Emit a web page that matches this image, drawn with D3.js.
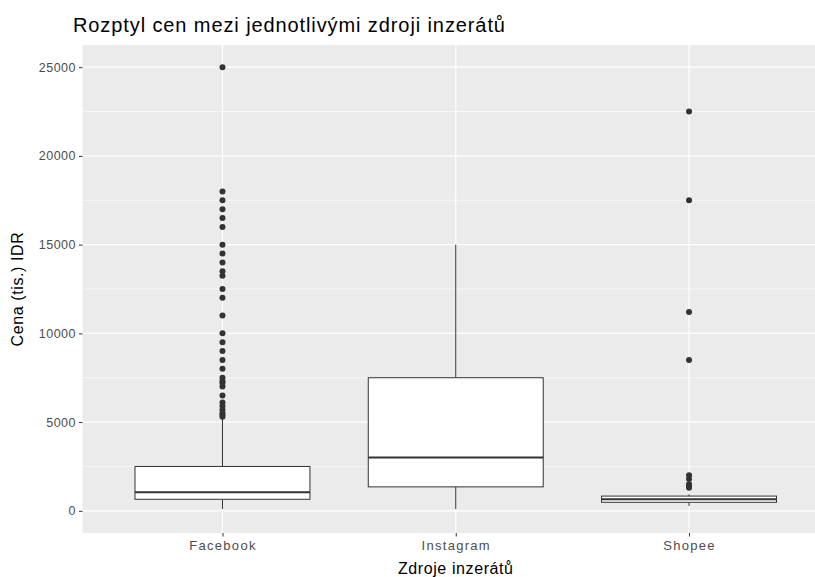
<!DOCTYPE html>
<html>
<head>
<meta charset="utf-8">
<script src="https://cdn.jsdelivr.net/npm/d3@7"></script>
<style>
  body { margin: 0; background: #fff; }
  text { font-family: "Liberation Sans", Arial, sans-serif; }
</style>
</head>
<body>
<svg id="chart"></svg>
<script>
// data (values in tis. IDR)
const categories = ["Facebook", "Instagram", "Shopee"];
const q1 = [650, 1350, 480];
const median = [1050, 3000, 650];
const q3 = [2500, 7500, 830];
const whiskerLow = [100, 100, 270];
const whiskerHigh = [5200, 15000, 930];
const outliers = [
  [25000, 18000, 17500, 17000, 16500, 16000, 15000, 14500, 14000, 13500, 13250,
   12500, 12000, 11000, 10000, 9500, 9000, 8500, 8000, 7500, 7300, 7200, 7000,
   6500, 6100, 5900, 5700, 5500, 5400, 5300],
  [],
  [22500, 17500, 11200, 8500, 2000, 1800, 1500, 1400, 1300]
];
const yTicks = [0, 5000, 10000, 15000, 20000, 25000];
const yMinor = [2500, 7500, 12500, 17500, 22500];

//window setting
const width = 815;
const height = 577;
const svg = d3.select("#chart").attr("width", width).attr("height", height);
const panel = { left: 82.5, right: 829, top: 45, bottom: 533 };

const x = d3.scalePoint().domain(categories).range([panel.left, panel.right]).padding(0.6);
const y = d3.scaleLinear().domain([-1250, 26250]).range([panel.bottom, panel.top]);
const boxW = x.step() * 0.75;

// panel background
svg.append("rect")
  .attr("x", panel.left)
  .attr("y", panel.top)
  .attr("width", panel.right - panel.left)
  .attr("height", panel.bottom - panel.top)
  .attr("fill", "#EBEBEB");

// grid
const grid = svg.append("g");
grid.selectAll(".minor")
  .data(yMinor)
  .enter()
  .append("line")
  .attr("x1", panel.left)
  .attr("x2", panel.right)
  .attr("y1", (d) => y(d))
  .attr("y2", (d) => y(d))
  .attr("stroke", "#fff")
  .attr("stroke-width", 0.6);
grid.selectAll(".major")
  .data(yTicks)
  .enter()
  .append("line")
  .attr("x1", panel.left)
  .attr("x2", panel.right)
  .attr("y1", (d) => y(d))
  .attr("y2", (d) => y(d))
  .attr("stroke", "#fff")
  .attr("stroke-width", 1.2);
grid.selectAll(".vmajor")
  .data(categories)
  .enter()
  .append("line")
  .attr("x1", (d) => x(d))
  .attr("x2", (d) => x(d))
  .attr("y1", panel.top)
  .attr("y2", panel.bottom)
  .attr("stroke", "#fff")
  .attr("stroke-width", 1.2);

// boxes
const box = svg.selectAll(".box")
  .data(categories)
  .enter()
  .append("g")
  .attr("class", "box");
box.append("line")
  .attr("x1", (d) => x(d))
  .attr("x2", (d) => x(d))
  .attr("y1", (d, i) => y(whiskerLow[i]))
  .attr("y2", (d, i) => y(q1[i]))
  .attr("stroke", "#333")
  .attr("stroke-width", 1);
box.append("line")
  .attr("x1", (d) => x(d))
  .attr("x2", (d) => x(d))
  .attr("y1", (d, i) => y(q3[i]))
  .attr("y2", (d, i) => y(whiskerHigh[i]))
  .attr("stroke", "#333")
  .attr("stroke-width", 1);
box.append("rect")
  .attr("x", (d) => x(d) - boxW / 2)
  .attr("width", boxW)
  .attr("y", (d, i) => y(q3[i]))
  .attr("height", (d, i) => y(q1[i]) - y(q3[i]))
  .attr("fill", "#fff")
  .attr("stroke", "#333")
  .attr("stroke-width", 1);
box.append("line")
  .attr("x1", (d) => x(d) - boxW / 2)
  .attr("x2", (d) => x(d) + boxW / 2)
  .attr("y1", (d, i) => y(median[i]))
  .attr("y2", (d, i) => y(median[i]))
  .attr("stroke", "#333")
  .attr("stroke-width", 2);
box.selectAll("circle")
  .data((d, i) => outliers[i].map((v) => ({ cat: d, v: v })))
  .enter()
  .append("circle")
  .attr("cx", (d) => x(d.cat))
  .attr("cy", (d) => y(d.v))
  .attr("r", 3)
  .attr("fill", "#333");

// axes
const yAxis = svg.append("g")
  .attr("transform", `translate(${panel.left},0)`)
  .call(d3.axisLeft(y).tickValues(yTicks).tickSize(3.5).tickPadding(3).tickFormat(d3.format("d")));
const xAxis = svg.append("g")
  .attr("transform", `translate(0,${panel.bottom})`)
  .call(d3.axisBottom(x).tickSize(3.5).tickPadding(4));
svg.selectAll(".domain").remove();
svg.selectAll(".tick line").attr("stroke", "#333").attr("stroke-width", 1);
svg.selectAll(".tick text")
  .attr("fill", "#4D4D4D")
  .style("font-family", "'Liberation Sans', Arial, sans-serif");
xAxis.selectAll(".tick text")
  .style("font-size", "13px")
  .style("letter-spacing", "1.3px");
yAxis.selectAll(".tick text")
  .style("font-size", "12.5px")
  .style("letter-spacing", "0.5px");

// titles
svg.append("text")
  .attr("x", 73)
  .attr("y", 32)
  .style("font-size", "20px")
  .style("letter-spacing", "0.9px")
  .attr("fill", "#000")
  .text("Rozptyl cen mezi jednotlivými zdroji inzerátů");
svg.append("text")
  .attr("x", (panel.left + 829) / 2)
  .attr("y", 574)
  .attr("text-anchor", "middle")
  .style("font-size", "16px")
  .style("letter-spacing", "0.6px")
  .text("Zdroje inzerátů");
svg.append("text")
  .attr("transform", `translate(23,${(panel.top + panel.bottom) / 2}) rotate(-90)`)
  .attr("text-anchor", "middle")
  .style("font-size", "16px")
  .style("letter-spacing", "0.6px")
  .text("Cena (tis.) IDR");
</script>
</body>
</html>
